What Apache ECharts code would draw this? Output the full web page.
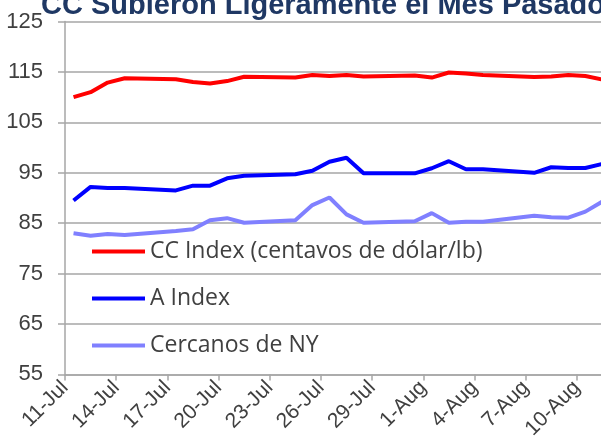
<!DOCTYPE html>
<html>
<head>
<meta charset="utf-8">
<script src="https://cdn.jsdelivr.net/npm/echarts@6/dist/echarts.min.js"></script>
<style>html,body{margin:0;padding:0;background:#fff}#c{width:601px;height:443px}</style>
</head>
<body>
<div id="c"></div>
<script>
var titleText = 'CC Subieron Ligeramente el Mes Pasado';
var dates = ['2017-07-11','2017-07-12','2017-07-13','2017-07-14','2017-07-17','2017-07-18','2017-07-19','2017-07-20','2017-07-21','2017-07-24','2017-07-25','2017-07-26','2017-07-27','2017-07-28','2017-07-31','2017-08-01','2017-08-02','2017-08-03','2017-08-04','2017-08-07','2017-08-08','2017-08-09','2017-08-10','2017-08-11'];
var ccIndex = [110.0,111.0,112.9,113.75,113.55,113.0,112.7,113.2,114.05,113.9,114.4,114.2,114.4,114.1,114.3,113.9,114.9,114.7,114.4,114.0,114.1,114.4,114.2,113.5];
var aIndex = [89.5,92.2,92.0,92.0,91.5,92.45,92.45,93.9,94.4,94.7,95.4,97.2,98.0,94.9,94.9,95.9,97.3,95.7,95.7,95.0,96.1,95.95,95.95,96.75];
var nyNearby = [83.0,82.5,82.85,82.65,83.45,83.8,85.6,86.0,85.1,85.6,88.6,90.1,86.75,85.1,85.4,87.0,85.1,85.3,85.3,86.5,86.2,86.1,87.3,89.3];
var xTickLabels = ['11-Jul','14-Jul','17-Jul','20-Jul','23-Jul','26-Jul','29-Jul','1-Aug','4-Aug','7-Aug','10-Aug'];
var yTickLabels = [55,65,75,85,95,105,115,125];
var seriesNames = ['CC Index (centavos de dólar/lb)','A Index','Cercanos de NY'];

var DAY = 86400000;
var start = Date.UTC(2017,6,11);
function dayPos(s){ var p=s.split('-'); return (Date.UTC(+p[0],+p[1]-1,+p[2]) - start)/DAY + 0.5; }
function pairs(vals){ return vals.map(function(v,i){ return [dayPos(dates[i]), v]; }); }

var chart = echarts.init(document.getElementById('c'));
var gray = '#A6A6A6';
chart.setOption({
  animation:false,
  title:{text:titleText, left:36, top:-14, textStyle:{fontFamily:'Liberation Sans, Arial', fontWeight:'bold', fontSize:29, color:'#1F3864'}},
  grid:{left:65, top:21.6, width:563, height:352.8, outerBoundsMode:'none', containLabel:false},
  legend:{
    orient:'vertical', left:87, top:235, itemGap:24,
    itemWidth:53, itemHeight:4,
    icon:'path://M0,0H53V4H0Z',
    textStyle:{fontFamily:'Open Sans', fontSize:23, color:'#404040'},
    data:seriesNames
  },
  xAxis:{
    type:'value', min:0, max:33, interval:3,
    axisLine:{lineStyle:{color:gray, width:1.5}},
    axisTick:{show:true, length:6, lineStyle:{color:gray, width:1.5}},
    splitLine:{show:false},
    axisLabel:{rotate:45, margin:10, fontFamily:'Liberation Sans, Arial', fontSize:21, color:'#404040', hideOverlap:false,
      formatter:function(v){ var i=Math.round(v/3); return (Math.abs(v-3*i)<1e-6 && xTickLabels[i]) ? xTickLabels[i] : ''; }}
  },
  yAxis:{
    type:'value', min:55, max:125, interval:10,
    axisLine:{show:true, lineStyle:{color:gray, width:1.5}},
    axisTick:{show:true, length:7, lineStyle:{color:gray, width:1.5}},
    splitLine:{lineStyle:{color:gray, width:1.5}},
    axisLabel:{margin:22, fontFamily:'Liberation Sans, Arial', fontSize:22, color:'#404040',
      formatter:function(v){ return yTickLabels.indexOf(v)>=0 ? String(v) : ''; }}
  },
  series:[
    {name:seriesNames[0], type:'line', data:pairs(ccIndex), symbol:'none', color:'#FF0000', lineStyle:{width:4, color:'#FF0000'}},
    {name:seriesNames[1], type:'line', data:pairs(aIndex), symbol:'none', color:'#0000FF', lineStyle:{width:4, color:'#0000FF'}},
    {name:seriesNames[2], type:'line', data:pairs(nyNearby), symbol:'none', color:'#8080FF', lineStyle:{width:4, color:'#8080FF'}}
  ]
});
</script>
</body>
</html>
